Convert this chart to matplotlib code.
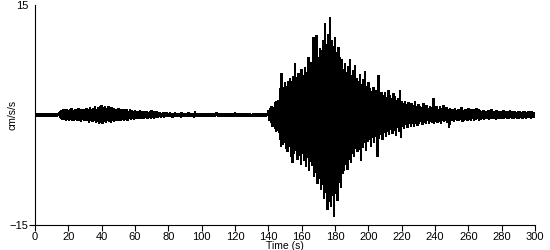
#!/usr/bin/env python3

import numpy as np
import matplotlib
matplotlib.use('Agg')
import matplotlib.pyplot as plt

#------------------------------------------------------------
# per-second peak (upper) and trough (lower) of the record, cm/s/s
#------------------------------------------------------------
time_s = np.arange(0, 301)

upper = [
    0.05, 0.05, 0.05, 0.05, 0.05, 0.05, 0.05, 0.05, 0.05, 0.05,
    0.05, 0.05, 0.05, 0.05, 0.05, 0.5, 0.6, 0.7, 0.5, 0.8,
    0.6, 0.7, 0.9, 0.6, 0.8, 0.7, 0.9, 0.6, 0.8, 0.7,
    0.8, 0.9, 0.7, 1.0, 0.8, 0.9, 1.1, 0.8, 1.0, 1.2,
    1.3, 1.0, 1.1, 0.9, 1.2, 0.8, 1.0, 0.9, 0.7, 0.8,
    0.9, 0.6, 0.8, 0.7, 0.6, 0.8, 0.5, 0.7, 0.6, 0.5,
    0.6, 0.5, 0.4, 0.6, 0.4, 0.5, 0.4, 0.5, 0.3, 0.4,
    0.6, 0.4, 0.3, 0.4, 0.3, 0.3, 0.2, 0.3, 0.2, 0.3,
    0.2, 0.3, 0.2, 0.2, 0.3, 0.2, 0.2, 0.2, 0.3, 0.2,
    0.2, 0.2, 0.3, 0.2, 0.2, 0.2, 0.4, 0.2, 0.1, 0.1,
    0.1, 0.1, 0.1, 0.1, 0.1, 0.1, 0.1, 0.1, 0.1, 0.3,
    0.1, 0.1, 0.1, 0.1, 0.1, 0.1, 0.1, 0.1, 0.1, 0.1,
    0.3, 0.1, 0.1, 0.1, 0.1, 0.1, 0.1, 0.1, 0.1, 0.1,
    0.05, 0.05, 0.05, 0.05, 0.05, 0.05, 0.05, 0.05, 0.05, 0.05,
    0.6, 0.9, 1.1, 1.0, 1.7, 1.9, 2.0, 3.6, 5.7, 3.8,
    4.4, 3.9, 4.6, 5.0, 4.5, 5.2, 7.0, 5.1, 5.6, 4.8,
    6.2, 5.4, 6.5, 5.8, 7.9, 6.6, 7.2, 10.6, 7.5, 10.9,
    7.8, 9.0, 8.8, 10.1, 12.5, 9.6, 11.0, 13.3, 10.2, 9.4,
    10.6, 8.5, 9.2, 7.9, 7.5, 6.2, 7.0, 5.8, 6.6, 7.5,
    5.4, 6.0, 6.8, 5.0, 4.6, 5.5, 4.2, 4.8, 5.9, 3.9,
    4.4, 3.6, 3.2, 3.8, 3.0, 3.4, 5.4, 2.8, 3.1, 2.6,
    3.0, 2.4, 3.4, 2.7, 2.2, 2.9, 2.5, 2.0, 2.3, 3.4,
    1.8, 1.5, 1.9, 1.4, 1.7, 1.2, 1.6, 1.3, 1.8, 1.1,
    1.4, 1.2, 1.0, 1.5, 1.1, 1.3, 0.9, 1.2, 1.0, 2.2,
    1.0, 1.2, 0.8, 1.1, 0.9, 1.3, 0.8, 1.0, 0.7, 0.9,
    0.8, 0.7, 0.9, 0.6, 0.8, 0.7, 1.0, 0.6, 0.8, 0.7,
    0.9, 0.6, 0.7, 0.8, 0.6, 0.9, 0.7, 0.6, 0.5, 0.6,
    0.5, 0.4, 0.6, 0.5, 0.7, 0.4, 0.5, 0.6, 0.4, 0.5,
    0.4, 0.6, 0.5, 0.4, 0.5, 0.6, 0.4, 0.5, 0.4, 0.3,
    0.5, 0.4, 0.3, 0.5, 0.4, 0.3, 0.4, 0.3, 0.4, 0.3,
    0.2,
]

lower = [
    -0.05, -0.05, -0.05, -0.05, -0.05, -0.05, -0.05, -0.05, -0.05, -0.05,
    -0.05, -0.05, -0.05, -0.05, -0.05, -0.5, -0.6, -0.5, -0.7, -0.6,
    -0.7, -0.6, -0.8, -0.7, -0.6, -0.8, -0.7, -0.9, -0.6, -0.8,
    -0.8, -0.7, -1.0, -0.8, -0.9, -0.8, -1.0, -0.9, -1.1, -1.0,
    -1.1, -0.9, -1.0, -0.8, -0.9, -1.0, -0.8, -0.9, -0.7, -0.8,
    -0.7, -0.8, -0.6, -0.7, -0.6, -0.7, -0.5, -0.6, -0.5, -0.6,
    -0.5, -0.4, -0.5, -0.4, -0.5, -0.4, -0.3, -0.4, -0.3, -0.4,
    -0.3, -0.4, -0.3, -0.3, -0.2, -0.3, -0.2, -0.3, -0.2, -0.2,
    -0.2, -0.2, -0.3, -0.2, -0.2, -0.2, -0.2, -0.3, -0.2, -0.2,
    -0.2, -0.2, -0.2, -0.2, -0.2, -0.3, -0.2, -0.2, -0.1, -0.1,
    -0.1, -0.1, -0.1, -0.1, -0.1, -0.1, -0.1, -0.1, -0.1, -0.1,
    -0.1, -0.1, -0.1, -0.1, -0.1, -0.1, -0.1, -0.1, -0.1, -0.1,
    -0.1, -0.1, -0.1, -0.1, -0.1, -0.1, -0.1, -0.1, -0.1, -0.1,
    -0.05, -0.05, -0.05, -0.05, -0.05, -0.05, -0.05, -0.05, -0.05, -0.05,
    -0.7, -1.0, -1.6, -1.3, -2.3, -2.1, -2.4, -4.3, -4.0, -3.8,
    -4.5, -5.0, -4.2, -5.7, -6.5, -5.2, -4.8, -6.0, -5.5, -6.8,
    -5.3, -6.2, -7.0, -5.8, -7.5, -6.4, -6.9, -8.4, -7.8, -9.4,
    -8.6, -10.2, -9.5, -11.4, -10.6, -12.9, -11.8, -12.5, -11.0, -13.8,
    -10.5, -11.6, -9.2, -9.9, -8.0, -7.5, -6.8, -7.4, -6.0, -6.5,
    -5.2, -5.7, -4.6, -5.0, -4.2, -6.2, -4.4, -3.8, -4.9, -3.6,
    -3.4, -4.3, -3.0, -3.8, -2.8, -5.7, -3.2, -2.6, -3.4, -2.4,
    -2.9, -2.2, -2.7, -1.9, -2.5, -2.0, -2.8, -1.7, -2.2, -3.0,
    -1.6, -1.8, -1.3, -1.7, -1.2, -1.5, -1.1, -1.6, -1.0, -1.4,
    -1.2, -0.9, -1.3, -1.0, -1.1, -0.8, -1.2, -0.9, -1.0, -1.1,
    -0.9, -1.0, -0.8, -1.1, -0.7, -0.9, -0.8, -1.0, -1.7, -0.8,
    -0.7, -0.9, -0.6, -0.8, -0.7, -0.6, -0.9, -0.7, -0.6, -0.8,
    -0.6, -0.7, -0.5, -0.8, -0.6, -0.5, -0.7, -0.6, -0.5, -0.6,
    -0.5, -0.4, -0.6, -0.5, -0.4, -0.5, -0.6, -0.4, -0.5, -0.4,
    -0.5, -0.4, -0.3, -0.5, -0.4, -0.3, -0.4, -0.5, -0.3, -0.4,
    -0.4, -0.3, -0.4, -0.3, -0.4, -0.3, -0.3, -0.4, -0.3, -0.3,
    -0.2,
]

x_ticks = np.arange(0, 301, 20)
y_ticks = [-15, 15]

#------------------------------------------------------------
#------------------------------------------------------------
def Draw():
    plt.rcParams['font.family'] = ['Liberation Sans', 'DejaVu Sans']

    # trace swings from the peak to the trough inside each second
    trace_t = np.empty(2 * len(time_s))
    trace_t[0::2] = time_s
    trace_t[1::2] = time_s + 0.5
    trace_y = np.empty(2 * len(time_s))
    trace_y[0::2] = upper
    trace_y[1::2] = lower
    trace_t = trace_t[:-1]
    trace_y = trace_y[:-1]

    fig = plt.figure(figsize=(5.5, 2.5), dpi=100)
    ax = fig.add_axes([35 / 550, 25 / 250, 500 / 550, 220 / 250])
    ax.plot(trace_t, trace_y, color='#000000', linewidth=1.05,
            antialiased=False, solid_joinstyle='miter')

    ax.set_xlim(0, 300)
    ax.set_ylim(-15, 15)
    ax.set_xticks(x_ticks)
    ax.set_yticks(y_ticks)
    ax.tick_params(axis='both', direction='out', length=4, width=0.8,
                   labelsize=8, pad=1, colors='#000000')
    ax.yaxis.get_major_ticks()[1].tick1line.set_visible(False)
    for name in ('top', 'right'):
        ax.spines[name].set_visible(False)
    for name in ('left', 'bottom'):
        ax.spines[name].set_linewidth(0.8)

    ax.set_xlabel("Time (s)", fontsize=7.5, labelpad=-1)
    ax.set_ylabel("cm/s/s", fontsize=7.5, labelpad=-6)

    plt.savefig("out.png", dpi=100)

#------------------------------------------------------------
#------------------------------------------------------------
if __name__ == "__main__":
    Draw()
